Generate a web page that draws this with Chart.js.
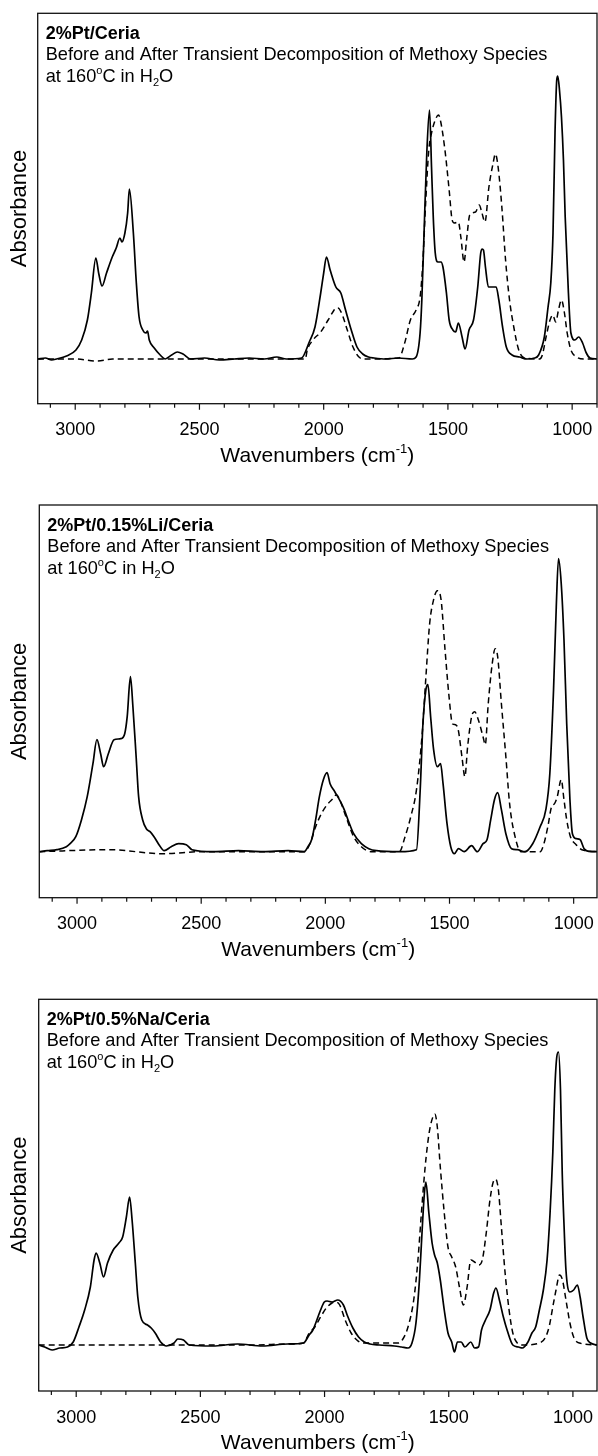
<!DOCTYPE html>
<html>
<head>
<meta charset="utf-8">
<title>DRIFTS methoxy decomposition</title>
<script src="https://cdn.jsdelivr.net/npm/chart.js@4.4.1/dist/chart.umd.min.js"></script>
<style>
  html, body { margin: 0; padding: 0; background: #fff; }
  body { width: 598px; height: 1456px; position: relative; overflow: hidden; }
  .panel { position: absolute; left: 0; width: 598px; }
  canvas { display: block; }
</style>
</head>
<body>
<div class="panel" style="top:0px;height:490px"><canvas id="ptCeria" width="598" height="490"></canvas></div>
<div class="panel" style="top:490px;height:490px"><canvas id="ptLiCeria" width="598" height="490"></canvas></div>
<div class="panel" style="top:980px;height:476px"><canvas id="ptNaCeria" width="598" height="476"></canvas></div>
<script>
// spectra as [wavenumber cm-1, absorbance]; solid = before, dashed = after
const ptCeriaBefore = [
  [3150, 0.000], [3120, 0.001], [3095, -0.001], [3075, 0.000], [3035, 0.003], [2997, 0.009],
  [2974, 0.019], [2951, 0.039], [2935, 0.066], [2917, 0.101], [2905, 0.085], [2892, 0.073],
  [2874, 0.086], [2851, 0.102], [2835, 0.111], [2820, 0.121], [2812, 0.117], [2800, 0.126],
  [2789, 0.146], [2782, 0.170], [2766, 0.126], [2754, 0.076], [2743, 0.042], [2728, 0.029],
  [2715, 0.026], [2709, 0.028], [2702, 0.019], [2682, 0.011], [2658, 0.004], [2638, 0.000],
  [2612, 0.004], [2589, 0.007], [2566, 0.005], [2535, 0.000], [2480, 0.001], [2420, -0.001],
  [2360, 0.000], [2300, 0.001], [2240, 0.000], [2189, 0.002], [2150, 0.000], [2089, 0.001],
  [2058, 0.017], [2035, 0.032], [2012, 0.066], [2000, 0.086], [1989, 0.102], [1974, 0.089],
  [1951, 0.072], [1931, 0.066], [1912, 0.049], [1889, 0.029], [1866, 0.012], [1843, 0.005],
  [1820, 0.002], [1797, 0.001], [1750, 0.000], [1700, 0.001], [1643, 0.000], [1628, 0.002],
  [1612, 0.026], [1605, 0.059], [1594, 0.142], [1585, 0.206], [1574, 0.249], [1566, 0.192],
  [1559, 0.142], [1551, 0.106], [1540, 0.097], [1528, 0.097], [1520, 0.092], [1506, 0.066],
  [1495, 0.039], [1480, 0.029], [1469, 0.027], [1458, 0.036], [1443, 0.022], [1431, 0.010],
  [1415, 0.029], [1397, 0.039], [1380, 0.072], [1368, 0.106], [1362, 0.110], [1357, 0.109],
  [1349, 0.092], [1337, 0.072], [1318, 0.072], [1306, 0.072], [1295, 0.059], [1280, 0.032],
  [1265, 0.012], [1242, 0.004], [1212, 0.002], [1182, 0.000], [1151, 0.001], [1135, 0.004],
  [1112, 0.022], [1097, 0.052], [1086, 0.076], [1077, 0.126], [1069, 0.226], [1062, 0.279],
  [1058, 0.283], [1051, 0.269], [1043, 0.242], [1035, 0.199], [1028, 0.142], [1015, 0.066],
  [1005, 0.026], [989, 0.019], [974, 0.022], [958, 0.016], [943, 0.006], [928, 0.001], [900, 0.000]
];
const ptCeriaAfter = [
  [3150, 0.000], [3000, 0.000], [2912, -0.002], [2850, 0.000], [2700, 0.000], [2500, 0.000],
  [2300, 0.000], [2074, 0.000], [2066, 0.009], [2043, 0.019], [2012, 0.027], [1982, 0.039],
  [1958, 0.049], [1951, 0.051], [1943, 0.051], [1928, 0.046], [1905, 0.029], [1882, 0.012],
  [1858, 0.002], [1835, 0.000], [1697, 0.001], [1674, 0.016], [1651, 0.039], [1628, 0.049],
  [1612, 0.062], [1602, 0.092], [1589, 0.159], [1577, 0.209], [1566, 0.226], [1551, 0.239],
  [1538, 0.244], [1528, 0.236], [1512, 0.209], [1495, 0.169], [1483, 0.139], [1474, 0.136],
  [1458, 0.137], [1448, 0.122], [1435, 0.097], [1425, 0.119], [1412, 0.144], [1389, 0.147],
  [1374, 0.154], [1363, 0.146], [1351, 0.137], [1335, 0.172], [1318, 0.196], [1309, 0.205],
  [1298, 0.192], [1283, 0.152], [1268, 0.099], [1252, 0.059], [1235, 0.032], [1215, 0.009],
  [1192, 0.001], [1131, 0.000], [1120, 0.004], [1105, 0.022], [1089, 0.039], [1078, 0.044],
  [1066, 0.037], [1055, 0.049], [1043, 0.059], [1031, 0.046], [1020, 0.026], [1005, 0.009],
  [982, 0.002], [950, 0.000], [900, 0.000]
];

const ptLiCeriaBefore = [
  [3152, 0.000], [3120, 0.001], [3081, 0.002], [3043, 0.005], [3028, 0.008], [3005, 0.015],
  [2982, 0.032], [2959, 0.055], [2936, 0.088], [2920, 0.112], [2905, 0.098], [2893, 0.085],
  [2874, 0.098], [2851, 0.112], [2824, 0.113], [2808, 0.118], [2798, 0.135], [2785, 0.175],
  [2775, 0.145], [2762, 0.095], [2752, 0.055], [2736, 0.032], [2721, 0.023], [2706, 0.020],
  [2690, 0.015], [2670, 0.007], [2649, 0.001], [2621, 0.005], [2591, 0.008], [2560, 0.007],
  [2537, 0.002], [2450, 0.000], [2350, 0.001], [2250, 0.000], [2150, 0.001], [2085, 0.000],
  [2070, 0.005], [2054, 0.013], [2039, 0.032], [2024, 0.055], [2008, 0.072], [1993, 0.079],
  [1981, 0.068], [1962, 0.060], [1939, 0.050], [1924, 0.042], [1909, 0.032], [1886, 0.018],
  [1855, 0.008], [1825, 0.003], [1794, 0.001], [1700, 0.000], [1633, 0.002], [1618, 0.062],
  [1607, 0.128], [1595, 0.162], [1587, 0.167], [1576, 0.135], [1564, 0.102], [1549, 0.085],
  [1536, 0.088], [1526, 0.068], [1510, 0.028], [1495, 0.005], [1480, -0.002], [1464, 0.003],
  [1441, 0.000], [1411, 0.006], [1388, 0.000], [1365, 0.008], [1349, 0.012], [1334, 0.032],
  [1319, 0.052], [1306, 0.059], [1291, 0.042], [1273, 0.018], [1250, 0.003], [1227, 0.002],
  [1196, 0.000], [1165, 0.008], [1135, 0.025], [1112, 0.042], [1096, 0.078], [1081, 0.162],
  [1070, 0.245], [1061, 0.293], [1050, 0.268], [1039, 0.212], [1028, 0.128], [1015, 0.052],
  [1005, 0.018], [989, 0.013], [974, 0.012], [958, 0.003], [930, 0.000], [906, 0.000]
];
const ptLiCeriaAfter = [
  [3152, 0.000], [2874, 0.002], [2652, -0.002], [2500, 0.000], [2085, 0.000], [2062, 0.008],
  [2039, 0.025], [2016, 0.038], [1993, 0.047], [1970, 0.053], [1955, 0.057], [1939, 0.050],
  [1917, 0.035], [1886, 0.015], [1855, 0.005], [1817, 0.000], [1702, 0.000], [1679, 0.015],
  [1656, 0.035], [1633, 0.062], [1610, 0.118], [1595, 0.175], [1580, 0.228], [1564, 0.252],
  [1549, 0.261], [1534, 0.252], [1518, 0.202], [1503, 0.158], [1488, 0.128], [1476, 0.127],
  [1465, 0.122], [1450, 0.095], [1438, 0.075], [1427, 0.105], [1411, 0.135], [1399, 0.140],
  [1384, 0.132], [1365, 0.115], [1356, 0.107], [1344, 0.148], [1328, 0.188], [1316, 0.203],
  [1306, 0.195], [1291, 0.148], [1273, 0.095], [1258, 0.048], [1236, 0.015], [1212, 0.000],
  [1135, 0.000], [1121, 0.007], [1104, 0.025], [1089, 0.045], [1077, 0.048], [1066, 0.055],
  [1050, 0.072], [1039, 0.052], [1028, 0.032], [1013, 0.015], [990, 0.007], [967, 0.002],
  [906, 0.000]
];

const ptNaCeriaBefore = [
  [3151, 0.000], [3127, -0.002], [3097, -0.005], [3066, -0.003], [3035, -0.002], [3012, 0.003],
  [2989, 0.018], [2966, 0.035], [2943, 0.058], [2928, 0.085], [2920, 0.092], [2905, 0.082],
  [2890, 0.068], [2874, 0.082], [2851, 0.095], [2828, 0.102], [2813, 0.108], [2798, 0.128],
  [2785, 0.148], [2775, 0.125], [2762, 0.082], [2752, 0.048], [2736, 0.025], [2713, 0.020],
  [2698, 0.017], [2682, 0.012], [2660, 0.003], [2637, -0.001], [2606, 0.002], [2591, 0.006],
  [2568, 0.005], [2545, 0.000], [2450, -0.001], [2350, 0.001], [2250, -0.001], [2150, 0.001],
  [2085, 0.002], [2062, 0.010], [2047, 0.015], [2031, 0.025], [2016, 0.035], [2001, 0.043],
  [1990, 0.044], [1970, 0.043], [1947, 0.045], [1924, 0.040], [1909, 0.030], [1886, 0.017],
  [1863, 0.008], [1840, 0.003], [1817, 0.001], [1779, 0.000], [1719, -0.001], [1690, -0.002],
  [1664, -0.003], [1648, 0.002], [1632, 0.022], [1618, 0.065], [1607, 0.115], [1598, 0.152],
  [1592, 0.163], [1580, 0.132], [1567, 0.102], [1557, 0.090], [1546, 0.082], [1534, 0.065],
  [1518, 0.035], [1503, 0.012], [1488, 0.003], [1477, -0.007], [1465, 0.003], [1450, 0.003],
  [1435, -0.002], [1411, 0.003], [1396, -0.003], [1380, -0.002], [1368, 0.015], [1352, 0.025],
  [1334, 0.035], [1319, 0.052], [1310, 0.057], [1296, 0.045], [1280, 0.028], [1265, 0.015],
  [1242, 0.000], [1219, -0.002], [1204, -0.003], [1181, 0.003], [1165, 0.012], [1150, 0.018],
  [1135, 0.035], [1119, 0.055], [1104, 0.085], [1092, 0.132], [1081, 0.192], [1073, 0.255],
  [1065, 0.288], [1058, 0.293], [1050, 0.255], [1043, 0.172], [1035, 0.115], [1028, 0.075],
  [1012, 0.053], [997, 0.055], [982, 0.060], [971, 0.048], [959, 0.028], [944, 0.007],
  [929, 0.002], [903, 0.000]
];
const ptNaCeriaAfter = [
  [3151, 0.000], [2900, 0.000], [2700, 0.000], [2500, 0.000], [2300, 0.000], [2146, 0.001],
  [2085, 0.002], [2062, 0.012], [2039, 0.018], [2016, 0.028], [1993, 0.037], [1970, 0.042],
  [1955, 0.043], [1939, 0.040], [1917, 0.025], [1893, 0.012], [1870, 0.005], [1847, 0.002],
  [1702, 0.002], [1687, 0.005], [1664, 0.018], [1641, 0.045], [1625, 0.082], [1610, 0.132],
  [1595, 0.178], [1579, 0.212], [1564, 0.228], [1556, 0.231], [1546, 0.218], [1534, 0.178],
  [1518, 0.132], [1503, 0.098], [1488, 0.088], [1472, 0.078], [1457, 0.058], [1441, 0.040],
  [1426, 0.058], [1411, 0.085], [1396, 0.083], [1380, 0.080], [1365, 0.085], [1349, 0.112],
  [1334, 0.145], [1322, 0.162], [1311, 0.166], [1300, 0.155], [1288, 0.118], [1273, 0.072],
  [1257, 0.035], [1242, 0.012], [1227, 0.003], [1204, 0.000], [1135, 0.002], [1112, 0.007],
  [1096, 0.018], [1081, 0.038], [1068, 0.055], [1054, 0.070], [1042, 0.065], [1028, 0.045],
  [1012, 0.022], [997, 0.008], [974, 0.002], [903, 0.000]
];

const sampleNames = ['2%Pt/Ceria', '2%Pt/0.15%Li/Ceria', '2%Pt/0.5%Na/Ceria'];
const subtitle = 'Before and After Transient Decomposition of Methoxy Species';
const xTickValues = [1000, 1500, 2000, 2500, 3000];

const FONT = '"Liberation Sans", Arial, Helvetica, sans-serif';

// draw a run of text pieces with raised / lowered small parts
function drawRuns(ctx, x, y, runs) {
  runs.forEach(r => {
    ctx.font = (r.bold ? 'bold ' : '') + r.size + 'px ' + FONT;
    ctx.fillText(r.t, x, y + (r.dy || 0));
    x += ctx.measureText(r.t).width;
  });
  return x;
}
function runsWidth(ctx, runs) {
  let w = 0;
  runs.forEach(r => {
    ctx.font = (r.bold ? 'bold ' : '') + r.size + 'px ' + FONT;
    w += ctx.measureText(r.t).width;
  });
  return w;
}

// frame around the plot area, tick marks, caption and x-axis title
const panelDecor = {
  id: 'panelDecor',
  afterDraw(chart, args, opts) {
    const { ctx, chartArea: a } = chart;
    const xs = chart.scales.x;
    ctx.save();
    ctx.strokeStyle = '#111';
    ctx.lineWidth = 1.3;
    ctx.strokeRect(a.left, a.top, a.right - a.left, a.bottom - a.top);

    ctx.lineWidth = 1.2;
    ctx.beginPath();
    xs.ticks.forEach(t => {
      const px = xs.getPixelForValue(t.value);
      const len = t.value % 500 === 0 ? 6 : 4;
      ctx.moveTo(px, a.bottom);
      ctx.lineTo(px, a.bottom + len);
    });
    ctx.stroke();

    ctx.fillStyle = '#000';
    ctx.textBaseline = 'alphabetic';
    ctx.textAlign = 'left';
    const tx = a.left + 8;
    drawRuns(ctx, tx, a.top + 25.5, [{ t: opts.sample, size: 18, bold: true }]);
    drawRuns(ctx, tx, a.top + 47, [{ t: subtitle, size: 18.2 }]);
    drawRuns(ctx, tx, a.top + 69, [
      { t: 'at 160', size: 18.2 }, { t: 'o', size: 11, dy: -8 }, { t: 'C in H', size: 18.2 },
      { t: '2', size: 11, dy: 4 }, { t: 'O', size: 18.2 }
    ]);

    const title = [
      { t: 'Wavenumbers (cm', size: 21 }, { t: '-1', size: 13, dy: -9 }, { t: ')', size: 21 }
    ];
    const w = runsWidth(ctx, title);
    drawRuns(ctx, (a.left + a.right) / 2 - w / 2, a.bottom + 58, title);
    ctx.restore();
  }
};

const panels = [
  { id: 'ptCeria', before: ptCeriaBefore, after: ptCeriaAfter, xMin: 900, xMax: 3151,
    yMin: -0.0447, yMax: 0.3457, left: 37.7, top: 13.3, xHeight: 86.3 },
  { id: 'ptLiCeria', before: ptLiCeriaBefore, after: ptLiCeriaAfter, xMin: 906, xMax: 3152,
    yMin: -0.046, yMax: 0.3467, left: 39.3, top: 15, xHeight: 82.3 },
  { id: 'ptNaCeria', before: ptNaCeriaBefore, after: ptNaCeriaAfter, xMin: 903, xMax: 3151,
    yMin: -0.046, yMax: 0.3457, left: 38.7, top: 19.3, xHeight: 65 }
];

const toXY = arr => arr.map(p => ({ x: p[0], y: p[1] }));

panels.forEach((p, i) => {
  new Chart(document.getElementById(p.id), {
    type: 'line',
    data: {
      datasets: [
        { label: 'Before', data: toXY(p.before), borderColor: '#000', borderWidth: 1.7,
          pointRadius: 0, cubicInterpolationMode: 'monotone', fill: false },
        { label: 'After', data: toXY(p.after), borderColor: '#000', borderWidth: 1.5,
          borderDash: [6, 4], pointRadius: 0, cubicInterpolationMode: 'monotone', fill: false }
      ]
    },
    options: {
      responsive: false,
      animation: false,
      events: [],
      layout: { padding: { top: p.top, right: 1, left: 0, bottom: 0 } },
      plugins: {
        legend: { display: false },
        tooltip: { enabled: false },
        panelDecor: { sample: sampleNames[i] }
      },
      scales: {
        x: {
          type: 'linear',
          reverse: true,
          min: p.xMin,
          max: p.xMax,
          afterFit: s => { s.height = p.xHeight; s.paddingLeft = 0; s.paddingRight = 0; },
          grid: { display: false, drawTicks: false },
          border: { display: false },
          ticks: {
            stepSize: 100,
            includeBounds: false,
            autoSkip: false,
            maxRotation: 0,
            padding: 16,
            color: '#000',
            font: { family: FONT, size: 18 },
            callback: v => (xTickValues.includes(v) ? String(v) : '')
          }
        },
        y: {
          min: p.yMin,
          max: p.yMax,
          afterFit: s => { s.width = p.left; },
          grid: { display: false, drawTicks: false },
          border: { display: false },
          ticks: { display: false },
          title: {
            display: true,
            text: 'Absorbance',
            color: '#000',
            font: { family: FONT, size: 22 },
            padding: { top: 7, bottom: 0 }
          }
        }
      }
    },
    plugins: [panelDecor]
  });
});
</script>
</body>
</html>
